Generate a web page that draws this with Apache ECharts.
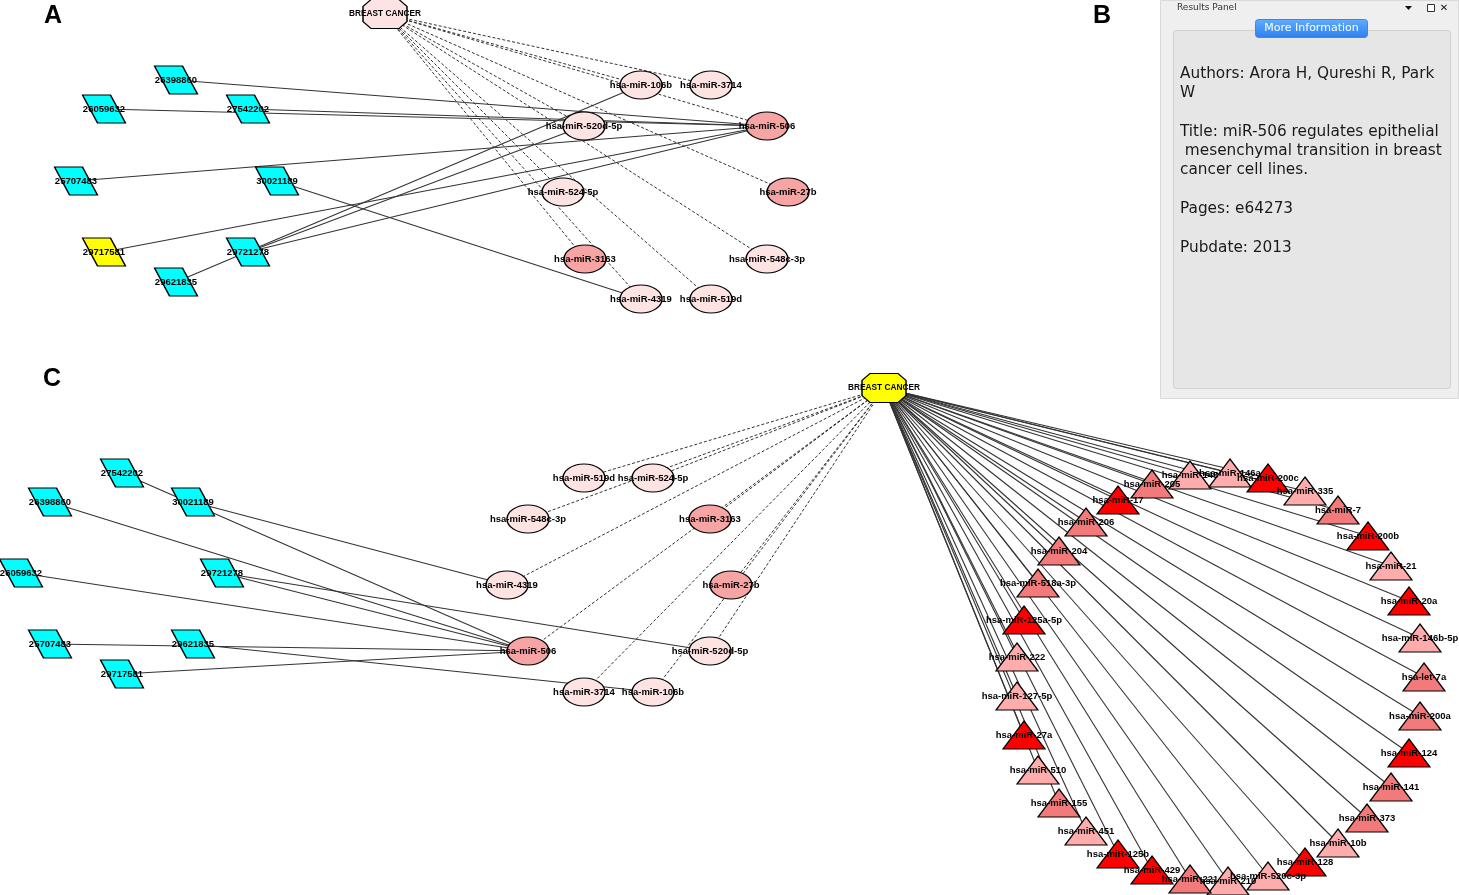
<!DOCTYPE html>
<html>
<head>
<meta charset="utf-8">
<title>Breast cancer miRNA network</title>
<script src="https://cdn.jsdelivr.net/npm/echarts@6/dist/echarts.min.js"></script>
<style>
html, body { margin: 0; padding: 0; background: #fff; }
#chart { width: 1459px; height: 895px; }
</style>
</head>
<body>
<div id="chart"></div>
<script>
// disease node
const disease = 'BREAST CANCER'
// publications (parallelogram nodes)
const pmids = ['26398860', '26059632', '27542202', '25707483', '30021189', '29717581', '29721278', '29621835']
// selected publication in panel A
const selectedPmid = '29717581'
// miRNAs with publication links (ellipse nodes), level 1 = darker shade
const mirs = ['hsa-miR-106b', 'hsa-miR-3714', 'hsa-miR-520d-5p', 'hsa-miR-506', 'hsa-miR-524-5p',
  'hsa-miR-27b', 'hsa-miR-3163', 'hsa-miR-548c-3p', 'hsa-miR-4319', 'hsa-miR-519d']
const mirLevel = [0, 0, 0, 1, 0, 1, 1, 0, 0, 0]
// publication -> miRNA edges
const pmidLinks = [
  ['26398860', 'hsa-miR-506'],
  ['26059632', 'hsa-miR-506'],
  ['27542202', 'hsa-miR-506'],
  ['25707483', 'hsa-miR-506'],
  ['29717581', 'hsa-miR-506'],
  ['29721278', 'hsa-miR-506'],
  ['29721278', 'hsa-miR-520d-5p'],
  ['29621835', 'hsa-miR-106b'],
  ['30021189', 'hsa-miR-4319']
]
// miRNAs linked to the disease only (triangle nodes), level 0 light, 1 medium, 2 red
const triMirs = ['hsa-miR-17', 'hsa-miR-205', 'hsa-miR-145', 'hsa-miR-146a', 'hsa-miR-200c', 'hsa-miR-335',
  'hsa-miR-7', 'hsa-miR-200b', 'hsa-miR-21', 'hsa-miR-20a', 'hsa-miR-146b-5p', 'hsa-let-7a', 'hsa-miR-200a',
  'hsa-miR-124', 'hsa-miR-141', 'hsa-miR-373', 'hsa-miR-10b', 'hsa-miR-128', 'hsa-miR-520c-3p', 'hsa-miR-210',
  'hsa-miR-221', 'hsa-miR-429', 'hsa-miR-125b', 'hsa-miR-451', 'hsa-miR-155', 'hsa-miR-510', 'hsa-miR-27a',
  'hsa-miR-127-5p', 'hsa-miR-222', 'hsa-miR-125a-5p', 'hsa-miR-518a-3p', 'hsa-miR-204', 'hsa-miR-206']
const triLevel = [2, 1, 0, 0, 2, 0, 1, 2, 0, 2, 0, 1, 1, 2, 1, 1, 0, 2, 0, 0, 1, 2, 2, 0, 1, 0, 2, 0, 0, 2, 1, 1, 1]
// text of the results panel (B)
const infoLines = ['Authors: Arora H, Qureshi R, Park', 'W', '', 'Title: miR-506 regulates epithelial',
  ' mesenchymal transition in breast', 'cancer cell lines.', '', 'Pages: e64273', '', 'Pubdate: 2013']

// node layout (pixels) of panel A
const layoutDiseaseA = [385, 14]
const layoutPmidA = [[176, 80], [104, 109], [248, 109], [76, 181], [277, 181], [104, 252], [248, 252], [176, 282]]
const layoutMirA = [[641, 85], [711, 85], [584, 126], [767, 126], [563, 192], [788, 192], [585, 259], [767, 259], [641, 299], [711, 299]]
// node layout (pixels) of panel C
const layoutDiseaseC = [884, 388]
const layoutPmidC = [[50, 502], [21, 573], [122, 473], [50, 644], [193, 502], [122, 674], [222, 573], [193, 644]]
const layoutMirC = [[653, 692], [584, 692], [710, 651], [528, 651], [653, 478], [731, 585], [710, 519], [528, 519], [507, 585], [584, 478]]
const layoutTriC = [[1118, 500], [1152, 484], [1190, 475], [1230, 473], [1268, 478], [1305, 491], [1338, 510],
  [1368, 536], [1391, 566], [1409, 601], [1420, 638], [1424, 677], [1420, 716], [1409, 753], [1391, 787],
  [1367, 818], [1338, 843], [1305, 862], [1268, 876], [1228, 881], [1190, 879], [1152, 870], [1118, 854],
  [1086, 831], [1059, 803], [1038, 770], [1024, 735], [1017, 696], [1017, 657], [1024, 620], [1038, 583],
  [1059, 551], [1086, 522]]

const W = 1459
const H = 895
const mirFill = ['#fee3e3', '#f6a4a4']
const triFill = ['#ffacac', '#f37a7a', '#ff0000']
const ellipse = 'path://M0,14A21,14 0 1,1 42,14A21,14 0 1,1 0,14Z'
const para = 'path://M0,0L28,0L43,28L15,28Z'
const octa = 'path://M8,0L36,0L44,7L44,22L36,29L8,29L0,22L0,7Z'
const font = 'Liberation Sans, Arial, sans-serif'
const border = { borderColor: '#000', borderWidth: 1.2 }

function pmidNodes(layout, highlight) {
  return pmids.map((p, i) => ({
    name: p,
    value: layout[i],
    symbol: para,
    symbolSize: [43, 28],
    itemStyle: { color: highlight && p === selectedPmid ? '#ffff00' : '#00ffff', ...border }
  }))
}

function mirNodes(layout) {
  return mirs.map((m, i) => ({
    name: m,
    value: layout[i],
    symbol: ellipse,
    symbolSize: [42, 28],
    itemStyle: { color: mirFill[mirLevel[i]], ...border }
  }))
}

function diseaseNode(pos, fill) {
  return {
    name: disease,
    value: pos,
    symbol: octa,
    symbolSize: [44, 29],
    itemStyle: { color: fill, ...border },
    label: { fontSize: 8.3, fontWeight: 'bold' }
  }
}

const solid = { color: '#333', width: 1.1, type: 'solid', opacity: 1 }
const dashed = { color: '#333', width: 1, type: [3, 2], opacity: 1 }

function baseLinks() {
  const links = mirs.map(m => ({ source: disease, target: m, lineStyle: dashed }))
  pmidLinks.forEach(([p, m]) => links.push({ source: p, target: m, lineStyle: solid }))
  return links
}

// 面板 A
const nodesA = [diseaseNode(layoutDiseaseA, '#fde3e3')]
  .concat(mirNodes(layoutMirA), pmidNodes(layoutPmidA, true))

// 面板 C
const triNodes = triMirs.map((m, i) => ({
  name: m,
  value: layoutTriC[i],
  symbol: 'triangle',
  symbolSize: [42, 28],
  itemStyle: { color: triFill[triLevel[i]], ...border }
}))
const nodesC = mirNodes(layoutMirC).concat(pmidNodes(layoutPmidC, false), triNodes,
  [diseaseNode(layoutDiseaseC, '#ffff00')])
const linksC = baseLinks().concat(triMirs.map(m => ({ source: disease, target: m, lineStyle: solid })))

function graphSeries(nodes, links) {
  return {
    type: 'graph',
    layout: 'none',
    coordinateSystem: 'cartesian2d',
    animation: false,
    silent: true,
    data: nodes,
    links: links,
    lineStyle: { opacity: 1 },
    label: {
      show: true,
      position: 'inside',
      color: '#000',
      fontFamily: font,
      fontSize: 9.5,
      fontWeight: 'bold'
    },
    emphasis: { disabled: true }
  }
}

// 结果面板 B
const panelB = [
  { type: 'rect', shape: { x: 1160.5, y: 0.5, width: 298, height: 398 }, style: { fill: '#efefef', stroke: '#dadada' } },
  { type: 'text', x: 1177, y: 8, style: { text: 'Results Panel', font: '9px DejaVu Sans', fill: '#333', verticalAlign: 'middle' } },
  { type: 'polygon', shape: { points: [[1405, 6], [1412, 6], [1408.5, 10]] }, style: { fill: '#111' } },
  { type: 'rect', shape: { x: 1427.5, y: 4.5, width: 7, height: 7 }, style: { fill: '#fff', stroke: '#333' } },
  { type: 'text', x: 1444, y: 8, style: { text: '✕', font: 'bold 10px DejaVu Sans', fill: '#111', align: 'center', verticalAlign: 'middle' } },
  { type: 'rect', shape: { x: 1173.5, y: 30.5, width: 277, height: 358, r: 3 }, style: { fill: '#e6e6e6', stroke: '#d2d2d2' } },
  {
    type: 'rect', shape: { x: 1255.5, y: 19.5, width: 112, height: 18, r: 3 },
    style: {
      fill: new echarts.graphic.LinearGradient(0, 0, 0, 1, [{ offset: 0, color: '#62adff' }, { offset: 1, color: '#2b7fef' }]),
      stroke: '#3f86e0'
    }
  },
  { type: 'text', x: 1311.5, y: 28.5, style: { text: 'More Information', font: '11px DejaVu Sans', fill: '#fff', align: 'center', verticalAlign: 'middle' } }
]
infoLines.forEach((t, i) => {
  if (t) {
    panelB.push({ type: 'text', x: 1180, y: 74 + i * 19.3, style: { text: t, font: '15.3px DejaVu Sans', fill: '#1a1a1a', verticalAlign: 'middle' } })
  }
})

const letters = [['A', 53, 16], ['B', 1102, 16], ['C', 52, 379]].map(([t, x, y]) => ({
  type: 'text', x, y, style: { text: t, font: 'bold 25px Liberation Sans', fill: '#000', align: 'center', verticalAlign: 'middle' }
}))

const chart = echarts.init(document.getElementById('chart'))
chart.setOption({
  animation: false,
  backgroundColor: '#fff',
  grid: { left: 0, right: 0, top: 0, bottom: 0 },
  xAxis: { type: 'value', min: 0, max: W, show: false },
  yAxis: { type: 'value', min: 0, max: H, inverse: true, show: false },
  series: [graphSeries(nodesA, baseLinks()), graphSeries(nodesC, linksC)],
  graphic: panelB.concat(letters)
})
</script>
</body>
</html>
